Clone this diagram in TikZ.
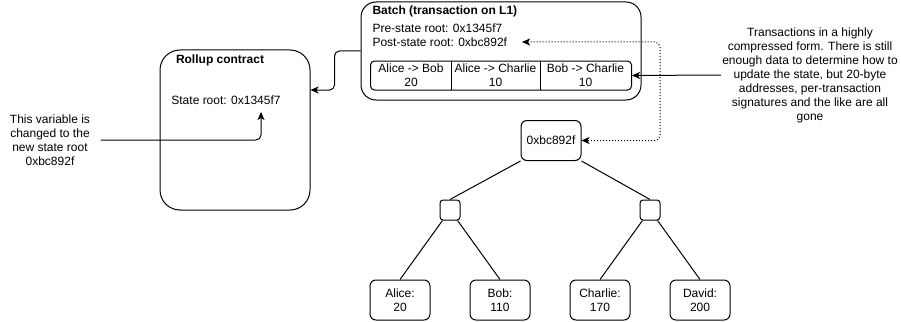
\documentclass[tikz,border=0pt]{standalone}
\usepackage{fontspec}
\setmainfont{Liberation Sans}
\usetikzlibrary{arrows.meta}
\begin{document}
\begin{tikzpicture}[x=1pt,y=-1pt,line width=1pt,
  every node/.style={font=\fontsize{12}{14}\selectfont,inner sep=0pt},
  leaf/.style={draw,rounded corners=6pt,minimum width=60pt,minimum height=40pt,align=center},
  small/.style={draw,rounded corners=3pt,minimum width=20pt,minimum height=20pt},
  bigbox/.style={draw,rounded corners=#1},
  lbl/.style={anchor=west},
  note/.style={align=center},
  arr/.style={-{Stealth[length=8pt,width=7pt,inset=2pt]}},
  dotarr/.style={{Stealth[length=8pt,width=7pt,inset=2pt]}-{Stealth[length=8pt,width=7pt,inset=2pt]},dash pattern=on 1pt off 2pt}
]
\useasboundingbox (0,0) rectangle (901,321);

% Rollup contract
\node[bigbox=20pt,minimum width=150pt,minimum height=160pt] (rollup) at (235,130) {};
\node[font=\fontsize{12}{14}\selectfont\bfseries] (rtitle) at (220,60) {Rollup contract};
\node (sroot) at (226,100) {State root: 0x1345f7};
\coordinate (srtip) at (261,112);

% left note
\node[note,inner xsep=10pt] (lnote) at (50,140) {This variable is\\changed to the\\new state root\\0xbc892f};

% Batch
\node[bigbox=15pt,minimum width=280pt,minimum height=98pt] (batch) at (501,51) {};
\node[lbl,font=\fontsize{12}{14}\selectfont\bfseries] (btitle) at (372,11) {Batch (transaction on L1)};
\node[lbl] (pre) at (372,28) {Pre-state root: 0x1345f7};
\node[lbl] (post) at (372,42) {Post-state root: 0xbc892f};
\coordinate (posttip) at (522,42);

% transactions table
\node[draw,rounded corners=4pt,minimum width=261pt,minimum height=29pt] (table) at (501,75.5) {};
\draw (451,61) -- (451,90);
\draw (540,61) -- (540,90);
\node[note] (tx1) at (411,75.5) {Alice -> Bob\\20};
\node[note] (tx2) at (495.5,75.5) {Alice -> Charlie\\10};
\node[note] (tx3) at (585.5,75.5) {Bob -> Charlie\\10};

% right note
\node[note,inner xsep=1pt] (rnote) at (810,75) {Transactions in a highly\\compressed form. There is still\\enough data to determine how to\\update the state, but 20-byte\\addresses, per-transaction\\signatures and the like are all\\gone};

% tree
\node[leaf] (root) at (551,140.5) {0xbc892f};
\node[small] (s1) at (450,210) {};
\node[small] (s2) at (650,210) {};
\node[leaf] (alice) at (400,300) {Alice:\\20};
\node[leaf] (bob) at (500,300) {Bob:\\110};
\node[leaf] (charlie) at (600,300) {Charlie:\\170};
\node[leaf] (david) at (700,300) {David:\\200};

\draw (root.south west) -- (s1.north);
\draw (root.south east) -- (s2.north);
\draw (s1) -- (alice.north);
\draw (s1) -- (bob.north);
\draw (s2) -- (charlie.north);
\draw (s2) -- (david.north);

% connectors
\draw[arr,rounded corners=5pt] (batch.west) -- ++(-26,0) |- ([yshift=40pt]rollup.east);
\draw[arr,rounded corners=5pt] (lnote.east) -| (srtip);
\draw[arr] (rnote.west) -- (table.east);
\draw[dotarr,rounded corners=5pt] (posttip) -- (660,42) |- (root.east);
\end{tikzpicture}
\end{document}
